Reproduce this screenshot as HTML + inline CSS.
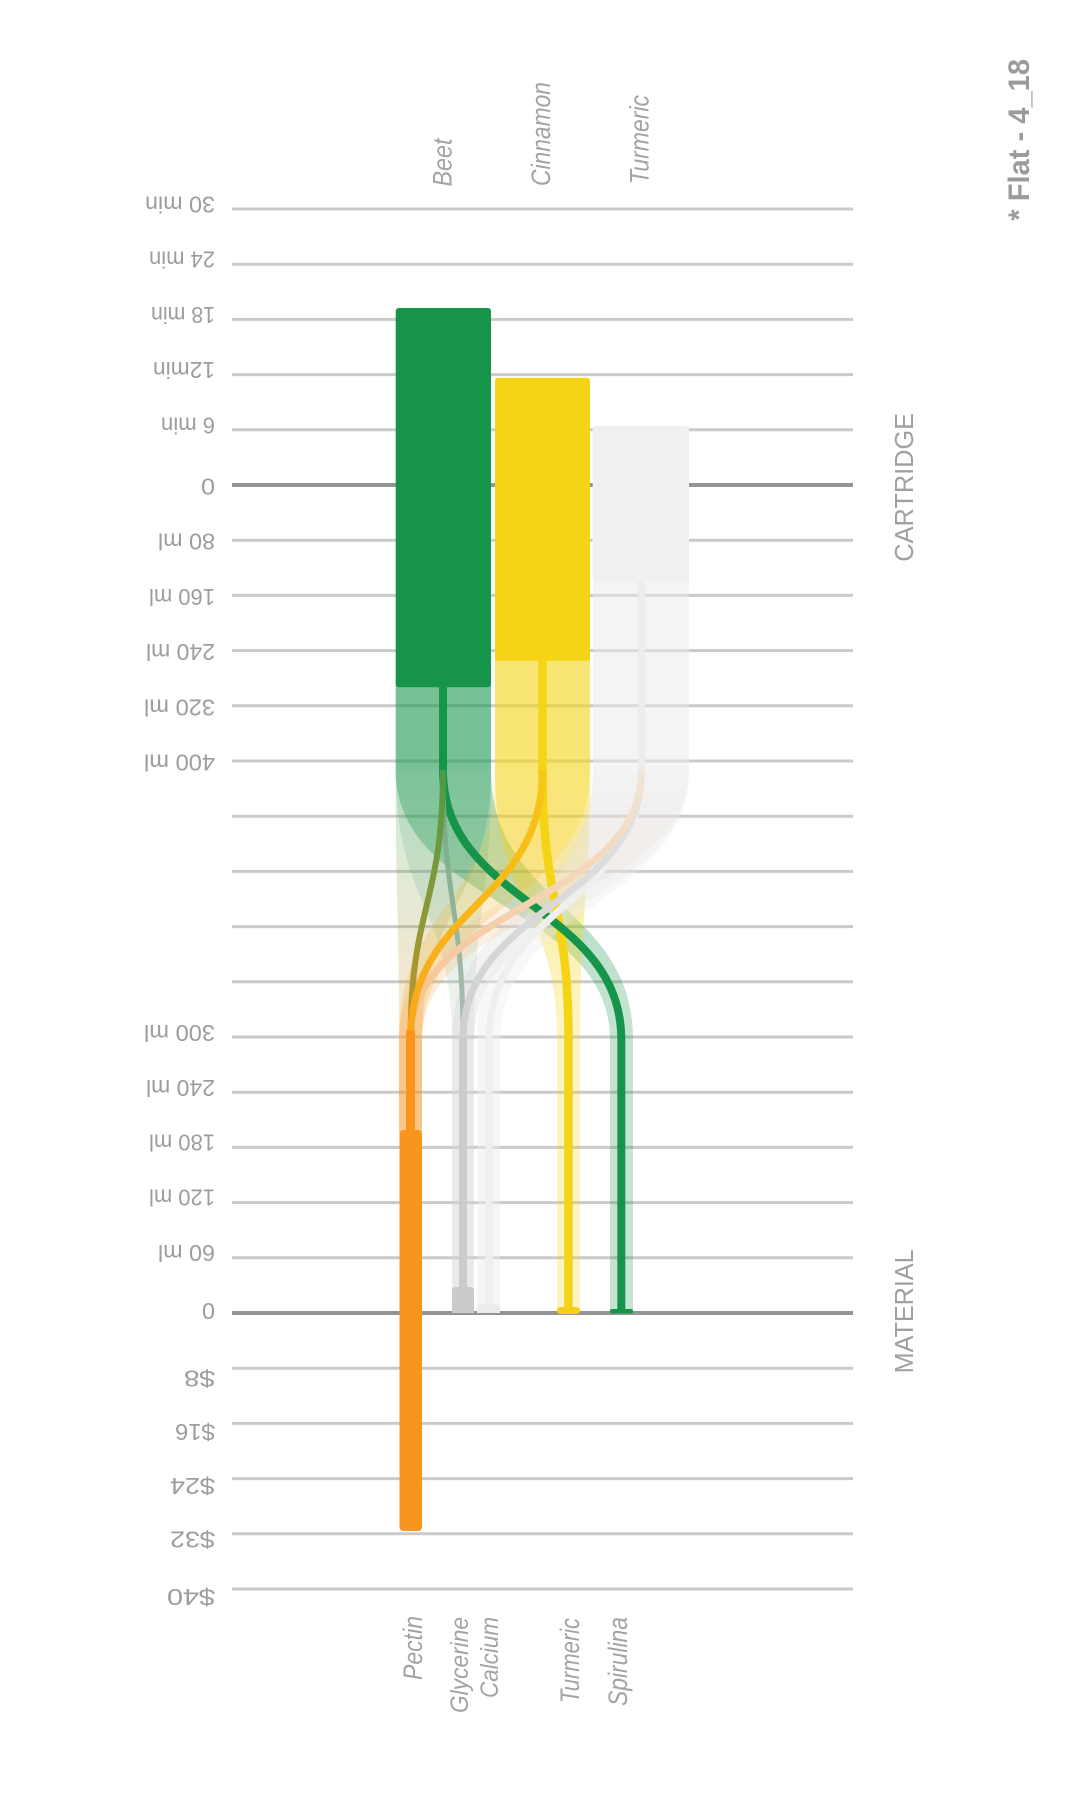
<!DOCTYPE html>
<html>
<head>
<meta charset="utf-8">
<style>
html,body{margin:0;padding:0;background:#ffffff;}
svg{display:block;}
</style>
</head>
<body>
<svg width="1084" height="1800" viewBox="0 0 1084 1800" xmlns="http://www.w3.org/2000/svg" font-family="'Liberation Sans', Arial, sans-serif">
<defs>
  <linearGradient id="gGP" gradientUnits="userSpaceOnUse" x1="0" y1="770" x2="0" y2="1040">
    <stop offset="0" stop-color="#16954a" stop-opacity="0.2"/>
    <stop offset="1" stop-color="#f7951d" stop-opacity="0.22"/>
  </linearGradient>
  <linearGradient id="gGG" gradientUnits="userSpaceOnUse" x1="0" y1="770" x2="0" y2="1040">
    <stop offset="0" stop-color="#16954a" stop-opacity="0.15"/>
    <stop offset="1" stop-color="#cccccc" stop-opacity="0.25"/>
  </linearGradient>
  <linearGradient id="gGS" gradientUnits="userSpaceOnUse" x1="0" y1="770" x2="0" y2="1040">
    <stop offset="0" stop-color="#16954a" stop-opacity="0.35"/>
    <stop offset="1" stop-color="#16954a" stop-opacity="0.25"/>
  </linearGradient>
  <linearGradient id="gYT" gradientUnits="userSpaceOnUse" x1="0" y1="770" x2="0" y2="1040">
    <stop offset="0" stop-color="#f4d415" stop-opacity="0.45"/>
    <stop offset="1" stop-color="#f4d415" stop-opacity="0.25"/>
  </linearGradient>
  <linearGradient id="gYO" gradientUnits="userSpaceOnUse" x1="0" y1="770" x2="0" y2="1040">
    <stop offset="0" stop-color="#f4d415" stop-opacity="0.25"/>
    <stop offset="1" stop-color="#f7951d" stop-opacity="0.22"/>
  </linearGradient>
  <linearGradient id="gWO" gradientUnits="userSpaceOnUse" x1="0" y1="770" x2="0" y2="1040">
    <stop offset="0" stop-color="#e6e6e8" stop-opacity="0.2"/>
    <stop offset="1" stop-color="#f7951d" stop-opacity="0.2"/>
  </linearGradient>
  <linearGradient id="gWG" gradientUnits="userSpaceOnUse" x1="0" y1="770" x2="0" y2="1040">
    <stop offset="0" stop-color="#e6e6e8" stop-opacity="0.2"/>
    <stop offset="1" stop-color="#d0d0d0" stop-opacity="0.35"/>
  </linearGradient>
  <linearGradient id="gWC" gradientUnits="userSpaceOnUse" x1="0" y1="770" x2="0" y2="1040">
    <stop offset="0" stop-color="#e6e6e8" stop-opacity="0.2"/>
    <stop offset="1" stop-color="#eeeeee" stop-opacity="0.45"/>
  </linearGradient>
  <linearGradient id="lOlive" gradientUnits="userSpaceOnUse" x1="0" y1="770" x2="0" y2="1040">
    <stop offset="0" stop-color="#4a9a47"/>
    <stop offset="1" stop-color="#c99627"/>
  </linearGradient>
  <linearGradient id="lGG" gradientUnits="userSpaceOnUse" x1="0" y1="770" x2="0" y2="1040">
    <stop offset="0" stop-color="#6aa880"/>
    <stop offset="1" stop-color="#b0bfb4"/>
  </linearGradient>
  <linearGradient id="lGold" gradientUnits="userSpaceOnUse" x1="0" y1="770" x2="0" y2="1040">
    <stop offset="0" stop-color="#f6c816"/>
    <stop offset="1" stop-color="#f9a51c"/>
  </linearGradient>
  <linearGradient id="lPeach" gradientUnits="userSpaceOnUse" x1="0" y1="770" x2="0" y2="1040">
    <stop offset="0" stop-color="#f0e6dc"/>
    <stop offset="1" stop-color="#f9bd85"/>
  </linearGradient>
  <linearGradient id="lGray" gradientUnits="userSpaceOnUse" x1="0" y1="770" x2="0" y2="1040">
    <stop offset="0" stop-color="#e4e4e6"/>
    <stop offset="1" stop-color="#cfcfcf"/>
  </linearGradient>
</defs>

<rect x="0" y="0" width="1084" height="1800" fill="#ffffff"/>

<!-- grid lines -->
<g stroke="#cacaca" stroke-width="3">
  <line x1="232" y1="209" x2="853" y2="209"/>
  <line x1="232" y1="264.2" x2="853" y2="264.2"/>
  <line x1="232" y1="319.4" x2="853" y2="319.4"/>
  <line x1="232" y1="374.6" x2="853" y2="374.6"/>
  <line x1="232" y1="429.8" x2="853" y2="429.8"/>
  <line x1="232" y1="540.2" x2="853" y2="540.2"/>
  <line x1="232" y1="595.4" x2="853" y2="595.4"/>
  <line x1="232" y1="650.6" x2="853" y2="650.6"/>
  <line x1="232" y1="705.8" x2="853" y2="705.8"/>
  <line x1="232" y1="761" x2="853" y2="761"/>
  <line x1="232" y1="816.2" x2="853" y2="816.2"/>
  <line x1="232" y1="871.4" x2="853" y2="871.4"/>
  <line x1="232" y1="926.6" x2="853" y2="926.6"/>
  <line x1="232" y1="981.8" x2="853" y2="981.8"/>
  <line x1="232" y1="1037" x2="853" y2="1037"/>
  <line x1="232" y1="1092.2" x2="853" y2="1092.2"/>
  <line x1="232" y1="1147.4" x2="853" y2="1147.4"/>
  <line x1="232" y1="1202.6" x2="853" y2="1202.6"/>
  <line x1="232" y1="1257.8" x2="853" y2="1257.8"/>
  <line x1="232" y1="1368.2" x2="853" y2="1368.2"/>
  <line x1="232" y1="1423.4" x2="853" y2="1423.4"/>
  <line x1="232" y1="1478.6" x2="853" y2="1478.6"/>
  <line x1="232" y1="1533.8" x2="853" y2="1533.8"/>
  <line x1="232" y1="1589" x2="853" y2="1589"/>
</g>
<g stroke="#949494" stroke-width="4">
  <line x1="232" y1="485" x2="853" y2="485"/>
  <line x1="232" y1="1313" x2="853" y2="1313"/>
</g>

<!-- source ribbons under bars -->
<rect x="395.7" y="680" width="95.3" height="90" fill="#16954a" fill-opacity="0.58"/>
<rect x="495" y="655" width="95" height="115" fill="#f4d415" fill-opacity="0.6"/>
<rect x="593" y="575" width="96" height="195" fill="#e9e9ec" fill-opacity="0.5"/>

<!-- flow bands -->
<path d="M395.7,770 C395.7,905 399,905 399,1040 L422,1040 C422,905 491,905 491,770 Z" fill="url(#gGP)"/>
<path d="M395.7,770 C395.7,905 452,905 452,1040 L474,1040 C474,905 491,905 491,770 Z" fill="url(#gGG)"/>
<path d="M395.7,770 C395.7,905 610,905 610,1040 L633,1040 C633,905 491,905 491,770 Z" fill="url(#gGS)"/>
<path d="M495,770 C495,905 557,905 557,1040 L580,1040 C580,905 590,905 590,770 Z" fill="url(#gYT)"/>
<path d="M495,770 C495,905 399,905 399,1040 L422,1040 C422,905 590,905 590,770 Z" fill="url(#gYO)"/>
<path d="M593,770 C593,905 399,905 399,1040 L422,1040 C422,905 689,905 689,770 Z" fill="url(#gWO)"/>
<path d="M593,770 C593,905 452,905 452,1040 L474,1040 C474,905 689,905 689,770 Z" fill="url(#gWG)"/>
<path d="M593,770 C593,905 477,905 477,1040 L500,1040 C500,905 689,905 689,770 Z" fill="url(#gWC)"/>

<!-- destination ribbons -->
<rect x="399" y="1040" width="23" height="92" fill="#f7951d" fill-opacity="0.55"/>
<rect x="452" y="1040" width="22" height="273" fill="#d6d6d6" fill-opacity="0.5"/>
<rect x="477" y="1040" width="23" height="273" fill="#ececec" fill-opacity="0.45"/>
<rect x="557" y="1040" width="23" height="273" fill="#f4d415" fill-opacity="0.25"/>
<rect x="610" y="1040" width="23" height="273" fill="#16954a" fill-opacity="0.25"/>

<!-- cartridge bars -->
<rect x="395.7" y="308" width="95.3" height="379.3" rx="3" fill="#16954a"/>
<rect x="495" y="377.7" width="95" height="283" rx="3" fill="#f4d415"/>
<rect x="592.7" y="426" width="96.3" height="155.7" rx="3" fill="#f0f0f1"/>

<!-- flow lines -->
<g fill="none" stroke-linecap="butt">
  <path d="M641.5,582 L641.5,770" stroke="#ececee" stroke-width="7"/>
  <path d="M542.5,660 L542.5,770 C542.5,905 568.5,905 568.5,1040 L568.5,1308" stroke="#f4d415" stroke-width="8.5"/>
  <path d="M443,687 L443,770 C443,905 621.3,905 621.3,1040 L621.3,1310" stroke="#16954a" stroke-width="8"/>
  <path d="M443,770 C443,905 463,905 463,1040" stroke="url(#lGG)" stroke-width="5"/>
  <path d="M443,770 C443,905 410.5,905 410.5,1040" stroke="url(#lOlive)" stroke-width="6"/>
  <path d="M641.5,770 C641.5,905 489,905 489,1040 L489,1305" stroke="#efefef" stroke-width="7"/>
  <path d="M641.5,770 C641.5,905 463,905 463,1040" stroke="url(#lGray)" stroke-width="7"/>
  <path d="M463,1038 L463,1290" stroke="#cbcbcb" stroke-width="8"/>
  <path d="M641.5,770 C641.5,905 410.5,905 410.5,1040" stroke="url(#lPeach)" stroke-width="7"/>
  <path d="M542.5,770 C542.5,905 410.5,905 410.5,1040" stroke="url(#lGold)" stroke-width="7"/>
  <path d="M410.5,1030 L410.5,1132" stroke="#f7951d" stroke-width="9"/>
</g>

<!-- material caps -->
<rect x="399.5" y="1130" width="22.5" height="401" rx="4" fill="#f7951d"/>
<path d="M452,1313 L452,1291 Q452,1287 456,1287 L470,1287 Q474,1287 474,1291 L474,1313 Z" fill="#cbcbcb"/>
<path d="M477,1313 L477,1308 Q477,1304 481,1304 L496,1304 Q500,1304 500,1308 L500,1313 Z" fill="#ececec"/>
<rect x="557" y="1307" width="23" height="7" rx="3.5" fill="#f4d116"/>
<rect x="610" y="1309" width="23" height="4.5" rx="2" fill="#16954a"/>

<!-- left axis labels (upside down) -->
<g fill="#9d9d9d" font-size="23">
  <text transform="translate(215,196.5) rotate(180)" textLength="70" lengthAdjust="spacingAndGlyphs">30 min</text>
  <text transform="translate(215,251.7) rotate(180)" textLength="66" lengthAdjust="spacingAndGlyphs">24 min</text>
  <text transform="translate(215,306.9) rotate(180)" textLength="64" lengthAdjust="spacingAndGlyphs">18 min</text>
  <text transform="translate(215,362.1) rotate(180)" textLength="62" lengthAdjust="spacingAndGlyphs">12min</text>
  <text transform="translate(215,417.3) rotate(180)" textLength="54" lengthAdjust="spacingAndGlyphs">6 min</text>
  <text transform="translate(215,478.4) rotate(180)" textLength="14" lengthAdjust="spacingAndGlyphs">0</text>
  <text transform="translate(215,533.7) rotate(180)" textLength="57" lengthAdjust="spacingAndGlyphs">80 ml</text>
  <text transform="translate(215,588.9) rotate(180)" textLength="66" lengthAdjust="spacingAndGlyphs">160 ml</text>
  <text transform="translate(215,644.1) rotate(180)" textLength="69" lengthAdjust="spacingAndGlyphs">240 ml</text>
  <text transform="translate(215,699.3) rotate(180)" textLength="71" lengthAdjust="spacingAndGlyphs">320 ml</text>
  <text transform="translate(215,754.5) rotate(180)" textLength="71" lengthAdjust="spacingAndGlyphs">400 ml</text>
  <text transform="translate(215,1024.8) rotate(180)" textLength="71" lengthAdjust="spacingAndGlyphs">300 ml</text>
  <text transform="translate(215,1080.2) rotate(180)" textLength="69" lengthAdjust="spacingAndGlyphs">240 ml</text>
  <text transform="translate(215,1134.4) rotate(180)" textLength="66" lengthAdjust="spacingAndGlyphs">180 ml</text>
  <text transform="translate(215,1189.6) rotate(180)" textLength="66" lengthAdjust="spacingAndGlyphs">120 ml</text>
  <text transform="translate(215,1244.8) rotate(180)" textLength="57" lengthAdjust="spacingAndGlyphs">60 ml</text>
  <text transform="translate(215,1303) rotate(180)" textLength="13" lengthAdjust="spacingAndGlyphs">0</text>
  <text transform="translate(215,1370.5) rotate(180)" textLength="31" lengthAdjust="spacingAndGlyphs">$8</text>
  <text transform="translate(215,1424) rotate(180)" textLength="40" lengthAdjust="spacingAndGlyphs">$16</text>
  <text transform="translate(215,1478) rotate(180)" textLength="45" lengthAdjust="spacingAndGlyphs">$24</text>
  <text transform="translate(215,1531.5) rotate(180)" textLength="45" lengthAdjust="spacingAndGlyphs">$32</text>
  <text transform="translate(215,1589) rotate(180)" textLength="48" lengthAdjust="spacingAndGlyphs">$40</text>
</g>

<!-- column labels (vertical italic) -->
<g fill="#a3a3a3" font-size="27" font-style="italic">
  <text transform="translate(451.5,186.5) rotate(-90)" textLength="48" lengthAdjust="spacingAndGlyphs">Beet</text>
  <text transform="translate(550,186) rotate(-90)" textLength="104" lengthAdjust="spacingAndGlyphs">Cinnamon</text>
  <text transform="translate(648.3,184) rotate(-90)" textLength="89" lengthAdjust="spacingAndGlyphs">Turmeric</text>
  <text transform="translate(422,1680) rotate(-90)" textLength="64" lengthAdjust="spacingAndGlyphs">Pectin</text>
  <text transform="translate(468,1713) rotate(-90)" font-size="25" textLength="96" lengthAdjust="spacingAndGlyphs">Glycerine</text>
  <text transform="translate(498,1698) rotate(-90)" font-size="25" textLength="81" lengthAdjust="spacingAndGlyphs">Calcium</text>
  <text transform="translate(579,1703) rotate(-90)" textLength="85" lengthAdjust="spacingAndGlyphs">Turmeric</text>
  <text transform="translate(627,1706) rotate(-90)" textLength="89" lengthAdjust="spacingAndGlyphs">Spirulina</text>
</g>

<!-- section labels -->
<g fill="#a0a0a0" font-size="25.5">
  <text transform="translate(913,487.3) rotate(-90)" text-anchor="middle" textLength="148.7" lengthAdjust="spacingAndGlyphs">CARTRIDGE</text>
  <text transform="translate(913,1311.4) rotate(-90)" text-anchor="middle" textLength="124" lengthAdjust="spacingAndGlyphs">MATERIAL</text>
</g>

<text transform="translate(1029,220.7) rotate(-90)" fill="#9b9b9b" font-size="30" font-weight="bold" textLength="161.7" lengthAdjust="spacingAndGlyphs">* Flat - 4_18</text>
</svg>
</body>
</html>
